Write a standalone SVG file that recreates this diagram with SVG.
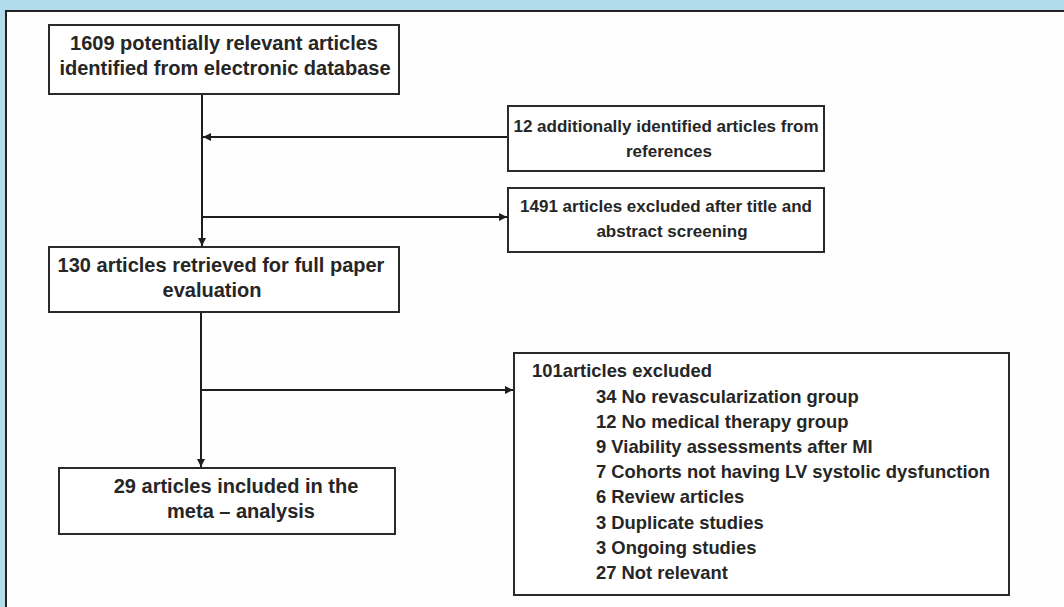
<svg xmlns="http://www.w3.org/2000/svg" width="1064" height="607" viewBox="0 0 1064 607">
<style>
.box{fill:#ffffff;stroke:#2a2a2a;stroke-width:2}
.ln{fill:none;stroke:#1e1e1e;stroke-width:2}
text{font-family:"Liberation Sans",Arial,Helvetica,sans-serif;font-weight:bold;fill:#262626}
.t20{font-size:20px}
.t17{font-size:17px}
.t18{font-size:18.4px}
.c{text-anchor:middle}
</style>
<defs>
<marker id="ah" markerUnits="userSpaceOnUse" markerWidth="9" markerHeight="9" refX="8" refY="4" orient="auto">
<path d="M0,0 L8,4 L0,8 z" fill="#1e1e1e"/>
</marker>
</defs>
<rect x="0" y="0" width="1064" height="607" fill="#b3dcea"/>
<rect x="6" y="11" width="1064" height="600" fill="#fefefe" stroke="#222" stroke-width="2"/>

<g id="connectors">
<line class="ln" x1="202" y1="94" x2="202" y2="246" marker-end="url(#ah)"/>
<line class="ln" x1="508" y1="137" x2="203" y2="137" marker-end="url(#ah)"/>
<line class="ln" x1="202" y1="217" x2="507" y2="217" marker-end="url(#ah)"/>
<line class="ln" x1="201" y1="312" x2="201" y2="467" marker-end="url(#ah)"/>
<line class="ln" x1="201" y1="390" x2="513" y2="390" marker-end="url(#ah)"/>
</g>

<g id="n1609">
<rect class="box" x="49" y="25" width="350" height="69"/>
<text class="t20 c" x="224" y="50">1609 potentially relevant articles</text>
<text class="t20 c" x="225" y="75">identified from electronic database</text>
</g>

<g id="n12">
<rect class="box" x="508" y="106" width="316" height="65"/>
<text class="t17 c" x="666" y="132">12 additionally identified articles from</text>
<text class="t17 c" x="669" y="157">references</text>
</g>

<g id="n1491">
<rect class="box" x="508" y="188" width="316" height="64"/>
<text class="t17 c" x="666" y="212">1491 articles excluded after title and</text>
<text class="t17 c" x="672" y="237">abstract screening</text>
</g>

<g id="n130">
<rect class="box" x="49" y="247" width="350" height="65"/>
<text class="t20 c" x="221" y="272">130 articles retrieved for full paper</text>
<text class="t20 c" x="212" y="297">evaluation</text>
</g>

<g id="n29">
<rect class="box" x="59" y="468" width="336" height="66"/>
<text class="t20 c" x="236" y="493">29 articles included in the</text>
<text class="t20 c" x="241" y="518">meta – analysis</text>
</g>

<g id="n101">
<rect class="box" x="514" y="353" width="495" height="242"/>
<text class="t18" x="532" y="377">101articles excluded</text>
<text class="t18" x="596" y="403">34 No revascularization group</text>
<text class="t18" x="596" y="428">12 No medical therapy group</text>
<text class="t18" x="596" y="453">9 Viability assessments after MI</text>
<text class="t18" x="596" y="478">7 Cohorts not having LV systolic dysfunction</text>
<text class="t18" x="596" y="503">6 Review articles</text>
<text class="t18" x="596" y="529">3 Duplicate studies</text>
<text class="t18" x="596" y="554">3 Ongoing studies</text>
<text class="t18" x="596" y="579">27 Not relevant</text>
</g>
</svg>
